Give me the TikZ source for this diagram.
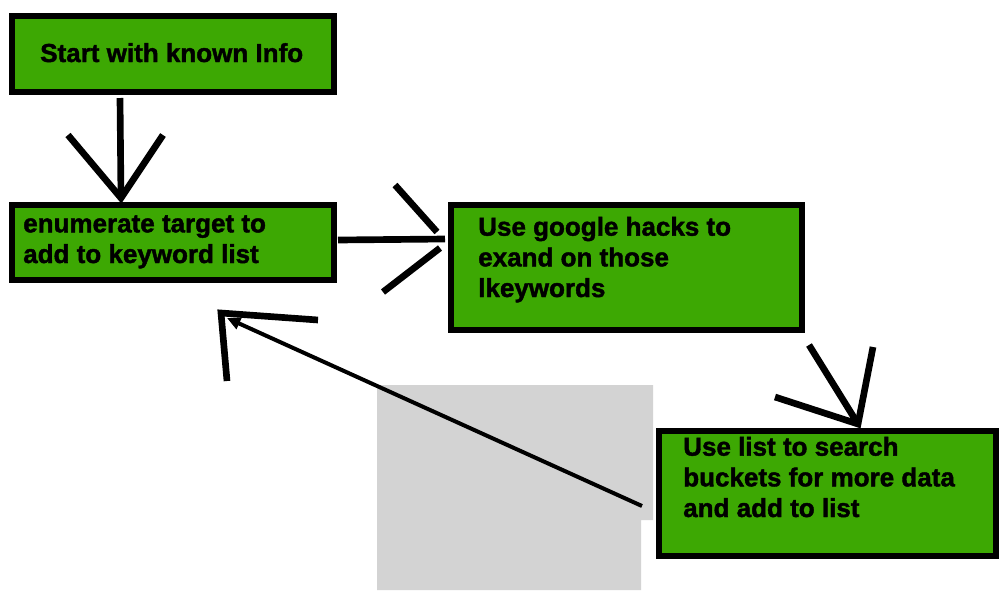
\documentclass[tikz,border=0pt]{standalone}
\usepackage{fontspec}
\setmainfont{Liberation Sans}[BoldFeatures={FakeBold=1.6}]
\usetikzlibrary{arrows.meta}

\definecolor{stepgreen}{RGB}{61,168,3}
\definecolor{sheetgray}{RGB}{211,211,211}

\tikzset{
    stepbox/.style={draw=black, fill=stepgreen, line width=4.5pt, inner sep=0pt, anchor=north west},
    steptext/.style={anchor=base west, inner sep=0pt, align=left,
        font=\bfseries\fontsize{19.5}{23}\selectfont},
    pen/.style={line width=5pt},
}

\begin{document}
\begin{tikzpicture}[x=0.75pt,y=0.75pt,yscale=-1,xscale=1]

            \useasboundingbox (0,0) rectangle (1000,590);

            % grey sheet under the return arrow
            \fill[sheetgray] (377,385) -- (653,385) -- (653,520) -- (641,520) -- (641,590) -- (377,590) -- cycle;

            % Boxes
            \node[stepbox, minimum width=241.5pt, minimum height=57pt] (start) at (9,13) {};
            \node[stepbox, minimum width=241.5pt, minimum height=56.25pt] (enum) at (9,202) {};
            \node[stepbox, minimum width=263.25pt, minimum height=93.75pt] (hacks) at (448,202) {};
            \node[stepbox, minimum width=252.75pt, minimum height=93.75pt] (buckets) at (656,428) {};

            % Text Node (anchored on the last line)
            \node[steptext] (startlbl) at (40,62) {Start with known Info};
            % Text Node
            \node[steptext] (enumlbl) at (23,263) {enumerate target to\\add to keyword list};
            % Text Node
            \node[steptext] (hackslbl) at (478,297) {Use google hacks to\\exand on those\\lkeywords};
            % Text Node
            \node[steptext] (bucketslbl) at (683,517) {Use list to search\\buckets for more data\\and add to list};

            % start -> enum
            \coordinate (a1tail) at (120,98);
            \coordinate (a1tip) at (121,198);
            \draw[pen] (a1tail) -- (a1tip);
            \draw[pen] (68,135) -- (a1tip) -- (163,135);

            % enum -> hacks
            \coordinate (a2tail) at (338,240);
            \coordinate (a2tip) at (445,239);
            \draw[pen] (a2tail) -- (a2tip);
            \draw[pen] (395,185) -- (437,232);
            \draw[pen] (383,292) -- (440,248);

            % hacks -> buckets
            \coordinate (a3tail) at (809,345);
            \coordinate (a3tip) at (858,424);
            \draw[pen] (a3tail) -- (a3tip);
            \draw[pen] (873,347) -- (a3tip) -- (775,397);

            % buckets -> enum
            \coordinate (a4tail) at (642,506);
            \coordinate (a4tip) at (227,318);
            \draw[line width=3pt, -{Triangle[length=10pt,width=9pt]}] (a4tail) -- (a4tip);
            \draw[pen] (318,320) -- (221,313) -- (227,381);

\end{tikzpicture}
\end{document}
